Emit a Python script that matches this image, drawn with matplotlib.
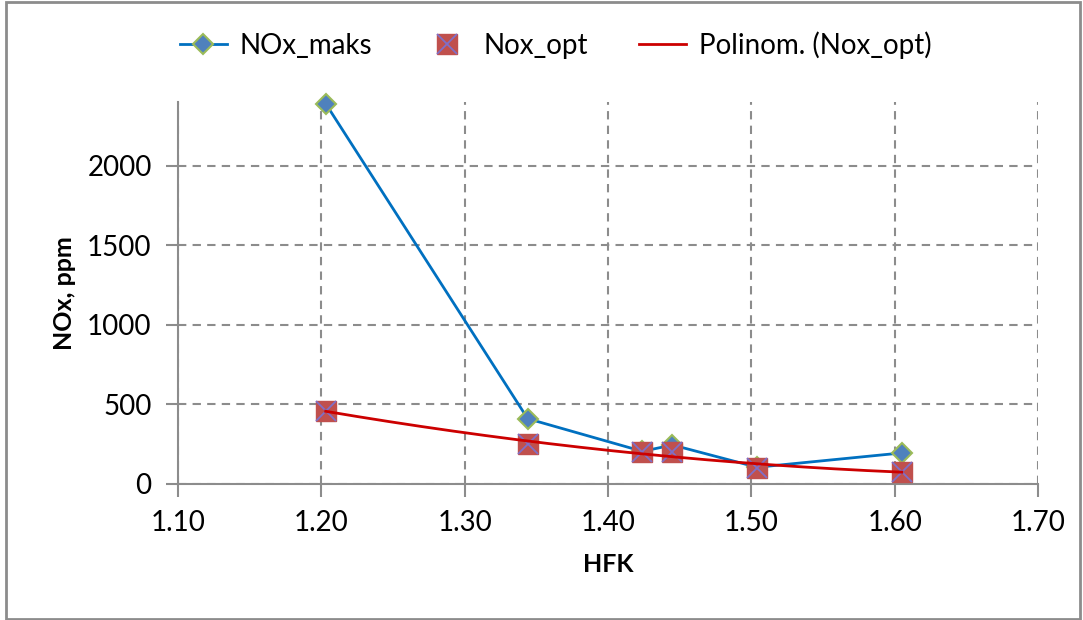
import matplotlib
matplotlib.use("Agg")
import matplotlib.pyplot as plt
import numpy as np
from matplotlib.patches import Rectangle

# measured NOx vs HFK
hfk_maks = [1.203, 1.344, 1.424, 1.445, 1.504, 1.605]
nox_maks = [2390, 410, 205, 245, 105, 195]
hfk_opt = [1.203, 1.344, 1.424, 1.445, 1.504, 1.605]
nox_opt = [460, 250, 200, 200, 100, 78]

x_ticks = [1.10, 1.20, 1.30, 1.40, 1.50, 1.60, 1.70]
y_ticks = [0, 500, 1000, 1500, 2000]

plt.rcParams["font.family"] = ["Lato", "DejaVu Sans"]
GRID = "#8c8c8c"

fig = plt.figure(figsize=(10.83, 6.2), dpi=100)
ax = fig.add_axes([0.1644, 0.2194, 0.7940, 0.6161])

# 2nd order polynomial trend through the optimum points
coef = np.polyfit(hfk_opt, nox_opt, 2)
xs = np.linspace(min(hfk_opt), max(hfk_opt), 200)

ln_maks, = ax.plot(hfk_maks, nox_maks, color="#0070c0", lw=2, marker="D", ms=10,
                   mfc="#4f81bd", mec="#9bbb59", mew=1.5, zorder=3, clip_on=False)
sq, = ax.plot(hfk_opt, nox_opt, ls="none", marker="s", ms=14, mfc="#c0504d",
              mec="#c0504d", zorder=4, clip_on=False)
xx, = ax.plot(hfk_opt, nox_opt, ls="none", marker="x", ms=14, mec="#7f6fc8",
              mew=1.3, zorder=5, clip_on=False)
ln_fit, = ax.plot(xs, np.polyval(coef, xs), color="#cc0000", lw=2, zorder=6)

ax.set_xlim(1.10, 1.70)
ax.set_ylim(0, 2400)
ax.set_xticks(x_ticks)
ax.set_xticklabels([f"{v:.2f}" for v in x_ticks])
ax.set_yticks(y_ticks)
ax.tick_params(labelsize=20, color=GRID, width=1.5, length=9, pad=10)
ax.grid(True, color=GRID, ls=(0, (4, 3)), lw=1.5)
ax.set_axisbelow(True)
for s in ("top", "right"):
    ax.spines[s].set_visible(False)
for s in ("left", "bottom"):
    ax.spines[s].set_color(GRID)
    ax.spines[s].set_linewidth(1.5)

ax.set_xlabel("HFK", fontsize=18, fontweight="bold", labelpad=12)
ax.set_ylabel("NOx, ppm", fontsize=18, fontweight="bold", labelpad=8)

fig.legend([ln_maks, (sq, xx), ln_fit], ["NOx_maks", "Nox_opt", "Polinom. (Nox_opt)"],
           loc="center", bbox_to_anchor=(0.513, 0.927), ncol=3, frameon=False,
           fontsize=20, handlelength=1.7, handletextpad=0.45, columnspacing=1.85,
           borderpad=0)

fig.add_artist(Rectangle((6 / 1083, 1 / 620), 1074 / 1083, 617 / 620,
                         transform=fig.transFigure, fill=False, ec="#8c8c8c", lw=2))

fig.savefig("out.png", dpi=100)
